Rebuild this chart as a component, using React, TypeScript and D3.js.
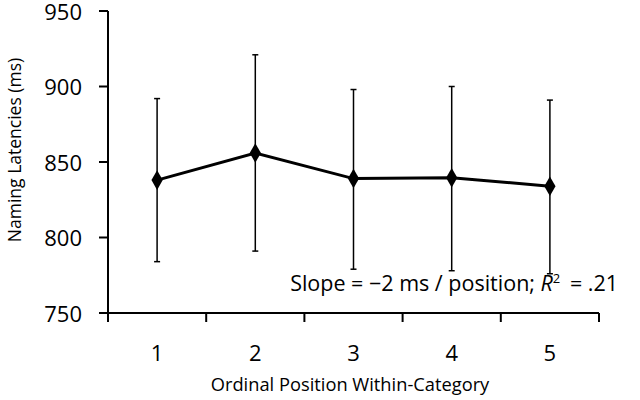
import React from "react";
import * as d3 from "d3";

const positions = ["1", "2", "3", "4", "5"];
const means = [838, 856, 839, 839.5, 834];
const lower = [784, 791, 779, 778, 776];
const upper = [892, 921, 898, 900, 891];
const yTicks = [750, 800, 850, 900, 950];

const W = 640, H = 400;
const left = 108, right = 599, top = 11, bottom = 313;

export default function App() {
  const x = d3.scaleBand<string>().domain(positions).range([left, right]).padding(0);
  const y = d3.scaleLinear().domain([750, 950]).range([bottom, top]);
  const cx = (i: number) => (x(positions[i]) as number) + x.bandwidth() / 2;
  const line = d3.line<number>().x((_, i) => cx(i)).y((d) => y(d));
  const diamond = d3.symbol().type(d3.symbolDiamond).size(110)();
  const font = "'Open Sans', sans-serif";
  const boundaries = [...positions.map((p) => x(p) as number), right];
  return (
    <svg width={W} height={H} style={{ position: "absolute", left: 0, top: 0, background: "#fff" }}>
      {/* axes */}
      <line x1={left} x2={left} y1={top} y2={bottom} stroke="#000" strokeWidth={2} />
      <line x1={left - 9} x2={right} y1={bottom} y2={bottom} stroke="#000" strokeWidth={2} />
      {yTicks.map((t) => (
        <g key={t}>
          <line x1={left - 9} x2={left} y1={y(t)} y2={y(t)} stroke="#000" strokeWidth={2} />
          <text x={82} y={y(t) + 1} dy="0.36em" textAnchor="end" fontFamily={font} fontSize={22} fill="#000">
            {t}
          </text>
        </g>
      ))}
      {boundaries.map((b, i) => (
        <line key={i} x1={b} x2={b} y1={bottom} y2={bottom + 9} stroke="#000" strokeWidth={2} />
      ))}
      {positions.map((p, i) => (
        <text key={p} x={cx(i)} y={353} dy="0.36em" textAnchor="middle" fontFamily={font} fontSize={22} fill="#000">
          {p}
        </text>
      ))}
      <text x={350} y={384} dy="0.36em" textAnchor="middle" fontFamily={font} fontSize={18.3} fill="#000">
        Ordinal Position Within-Category
      </text>
      <text
        transform={`translate(15,150) rotate(-90)`}
        dy="0.36em"
        textAnchor="middle"
        fontFamily={font}
        fontSize={17.5}
        fill="#000"
      >
        Naming Latencies (ms)
      </text>
      {/* error bars */}
      {means.map((m, i) => (
        <g key={i} stroke="#000" strokeWidth={1.5}>
          <line x1={cx(i)} x2={cx(i)} y1={y(lower[i])} y2={y(upper[i])} />
          <line x1={cx(i) - 3} x2={cx(i) + 3} y1={y(lower[i])} y2={y(lower[i])} />
          <line x1={cx(i) - 3} x2={cx(i) + 3} y1={y(upper[i])} y2={y(upper[i])} />
        </g>
      ))}
      <path d={line(means) || ""} fill="none" stroke="#000" strokeWidth={3} />
      {means.map((m, i) => (
        <path key={i} d={diamond || ""} transform={`translate(${cx(i)},${y(m)})`} fill="#000" />
      ))}
      <text x={618} y={283} dy="0.36em" textAnchor="end" fontFamily={font} fontSize={21.5} fill="#000">
        Slope = −2 ms / position; <tspan fontStyle="italic">R</tspan>
        <tspan fontSize={13} dy="-0.6em">2</tspan>
        <tspan dy="0.36em" dx="4">{"\u00A0"}= .21</tspan>
      </text>
    </svg>
  );
}
